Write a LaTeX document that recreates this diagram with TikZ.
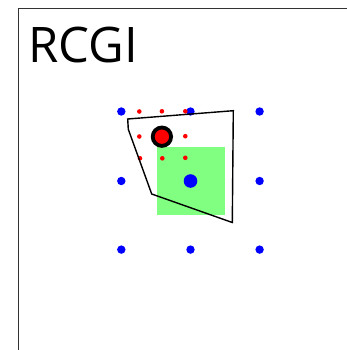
\documentclass[tikz,border=0pt]{standalone}
\usepackage{fontspec}
\setmainfont{Open Sans}
\begin{document}
\begin{tikzpicture}[x=1pt,y=-1pt,
  bluedot/.style={fill=blue,draw=none},
  reddot/.style={fill=red,draw=none},
  frameline/.style={draw=black!80,line width=0.9pt}]
\useasboundingbox (0,0) rectangle (347,350);
\fill[white] (0,0) rectangle (347,350);
\draw[frameline] (18.5,360) -- (18.5,8.3) -- (360,8.3);
\node[anchor=base west,inner sep=0pt,font=\fontsize{49}{49}\selectfont] (title) at (28.5,63) {RCGI};
% green square
\fill[green!50!white,fill=green!50] (157,147) rectangle (225,215);
% blue grid
\foreach \x in {121.3,190.5,259.6}
  \foreach \y in {111.5,181,249.6}
    \fill[bluedot] (\x,\y) circle (4.2);
\fill[bluedot] (190.5,181) circle (6.8);
% red grid
\foreach \x/\y in {139.3/111.5,161.9/111.3,185.3/111.3,139.3/136.5,185.3/136.2,140/158.3,162.3/158.3,185.3/157.8}
  \fill[reddot] (\x,\y) circle (2.3);
% polygon
\draw[black,line width=1.4pt,line join=miter] (127.7,119) -- (233.3,110.7) -- (232.3,222.5) -- (151.7,194) -- (128.3,129.3) -- cycle;
% big red circle
\draw[fill=red,draw=black,line width=3.8pt] (161.9,136.7) circle (9.2);
\end{tikzpicture}
\end{document}
